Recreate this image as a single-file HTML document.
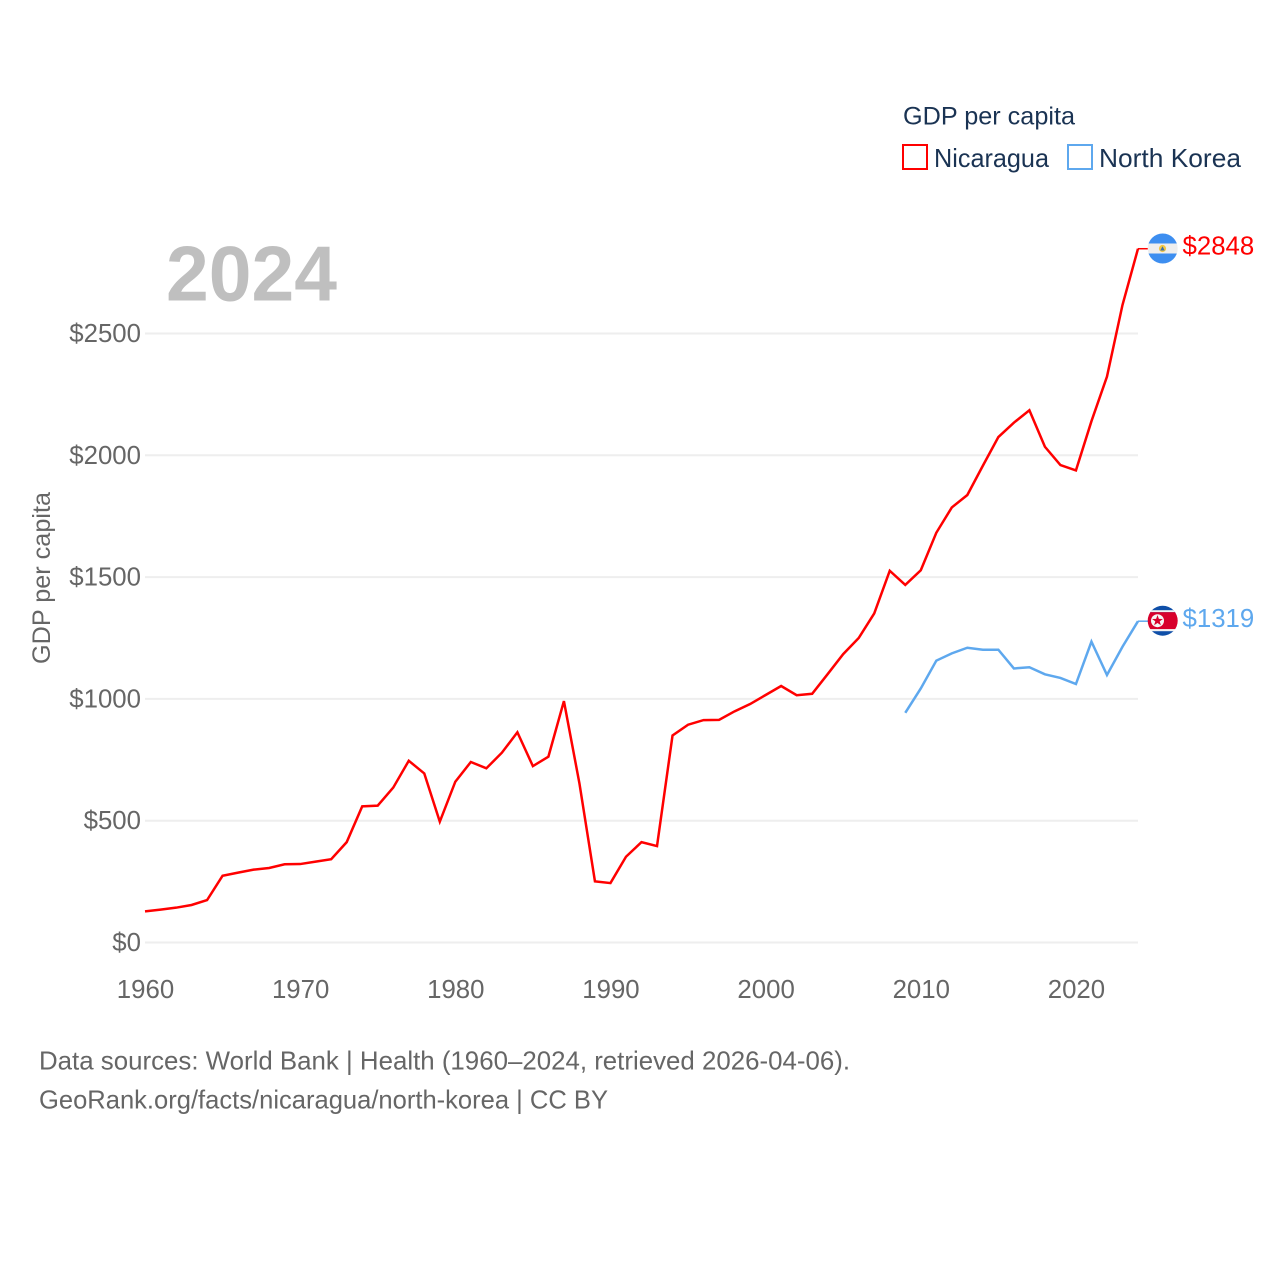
<!DOCTYPE html>
<html lang="en">
<head>
<meta charset="utf-8">
<title>GDP per capita: Nicaragua and North Korea</title>
<style>
  html, body { margin: 0; padding: 0; background: #ffffff; }
  svg { display: block; font-family: "Liberation Sans", sans-serif; }
</style>
</head>
<body>
<svg id="chart" xmlns="http://www.w3.org/2000/svg" width="1280" height="1280" viewBox="0 0 1280 1280">
  <defs>
    <clipPath id="clip-nic"><circle cx="1162.7" cy="248.5" r="15"/></clipPath>
    <clipPath id="clip-nk"><circle cx="1162.7" cy="620.7" r="15"/></clipPath>
  </defs>
  <rect x="0" y="0" width="1280" height="1280" fill="#ffffff"/>
  <g id="grid"></g>
  <g id="y-ticks"></g>
  <g id="x-ticks"></g>

  <text x="166" y="300.5" font-size="78" font-weight="700" fill="#bfbfbf" textLength="171" lengthAdjust="spacingAndGlyphs">2024</text>

  <text transform="translate(50,664) rotate(-90)" font-size="25" fill="#666666" textLength="172" lengthAdjust="spacingAndGlyphs">GDP per capita</text>

  <g id="series"></g>

  <g clip-path="url(#clip-nic)">
    <rect x="1147" y="233" width="31" height="10.5" fill="#3d8ef0"/>
    <rect x="1147" y="243.5" width="31" height="10" fill="#eeeeee"/>
    <rect x="1147" y="253.5" width="31" height="10.5" fill="#3d8ef0"/>
    <circle cx="1162.5" cy="248.5" r="3.6" fill="#f2c744"/>
    <path d="M1160.3 250.5 L1162.5 246.3 L1164.7 250.5 Z" fill="#3d6fa8"/>
  </g>
  <g clip-path="url(#clip-nk)">
    <rect x="1147" y="605" width="31" height="8" fill="#0f4fa8"/>
    <rect x="1147" y="610.2" width="31" height="2" fill="#f2f2f2"/>
    <rect x="1147" y="612.2" width="31" height="17" fill="#d8002c"/>
    <rect x="1147" y="629.2" width="31" height="2" fill="#f2f2f2"/>
    <rect x="1147" y="631.2" width="31" height="6" fill="#0f4fa8"/>
    <circle cx="1157.5" cy="620.7" r="6.5" fill="#f5f5f5"/>
    <path d="M1157.5 615.1 L1158.9 618.9 L1162.9 619 L1159.7 621.4 L1160.9 625.3 L1157.5 623 L1154.1 625.3 L1155.3 621.4 L1152.1 619 L1156.1 618.9 Z" fill="#d8002c"/>
  </g>

  <g>
    <text x="903" y="124.5" font-size="25" fill="#1a3353" textLength="172" lengthAdjust="spacingAndGlyphs">GDP per capita</text>
    <g>
      <rect x="903" y="145" width="24" height="24" fill="none" stroke="#ff0000" stroke-width="2"/>
      <text x="934" y="167" font-size="26" fill="#1a3353" textLength="115" lengthAdjust="spacingAndGlyphs">Nicaragua</text>
    </g>
    <g>
      <rect x="1068" y="145" width="24" height="24" fill="none" stroke="#5ea8ee" stroke-width="2"/>
      <text x="1099" y="167" font-size="26" fill="#1a3353" textLength="142" lengthAdjust="spacingAndGlyphs">North Korea</text>
    </g>
  </g>

  <text x="39" y="1069.5" font-size="26" fill="#666666" textLength="811" lengthAdjust="spacingAndGlyphs">Data sources: World Bank | Health (1960–2024, retrieved 2026-04-06).</text>
  <text x="39" y="1108.5" font-size="26" fill="#666666" textLength="569" lengthAdjust="spacingAndGlyphs">GeoRank.org/facts/nicaragua/north-korea | CC BY</text>
</svg>

<script>
var yTickValues = [0, 500, 1000, 1500, 2000, 2500];
var yTickLabels = ["$0", "$500", "$1000", "$1500", "$2000", "$2500"];
var xTickYears = [1960, 1970, 1980, 1990, 2000, 2010, 2020];
var xTickLabels = ["1960", "1970", "1980", "1990", "2000", "2010", "2020"];

var nicaraguaStartYear = 1960;
var nicaraguaValues = [128, 135, 143, 154, 174, 274, 287, 299, 306, 321,
  322, 332, 342, 412, 559, 562, 636, 746, 694, 496,
  660, 741, 715, 779, 863, 724, 763, 991, 653, 251,
  244, 352, 412, 396, 850, 894, 913, 914, 949, 979,
  1016, 1053, 1015, 1021, 1102, 1184, 1250, 1351, 1526, 1468,
  1528, 1682, 1786, 1837, 1957, 2075, 2134, 2185, 2035, 1960,
  1938, 2140, 2323, 2617, 2848];

var northKoreaStartYear = 2009;
var northKoreaValues = [943, 1043, 1157, 1187, 1210, 1202, 1202, 1125, 1130, 1101,
  1086, 1061, 1235, 1098, 1214, 1319];

var SVG_NS = "http://www.w3.org/2000/svg";
var X0 = 145, X1 = 1138, Y0 = 942.5, Y_SCALE = 0.2436;
var STUB_END = 1148;

function xScale(year) {
  return X0 + (year - 1960) * (X1 - X0) / 64;
}
function yScale(value) {
  return Y0 - value * Y_SCALE;
}
function make(tag, attrs, text) {
  var el = document.createElementNS(SVG_NS, tag);
  for (var k in attrs) { el.setAttribute(k, attrs[k]); }
  if (text !== undefined) { el.textContent = text; }
  return el;
}

var gridGroup = document.getElementById("grid");
var yGroup = document.getElementById("y-ticks");
var xGroup = document.getElementById("x-ticks");
var seriesGroup = document.getElementById("series");
var chartSvg = document.getElementById("chart");

yTickValues.forEach(function (v, i) {
  var line = make("line", { x1: X0, x2: X1, y1: yScale(v), y2: yScale(v), stroke: "#eeeeee", "stroke-width": 2 });
  
  
  gridGroup.appendChild(line);
  var label = make("text", { x: 141, y: yScale(v) + 8.5, "text-anchor": "end", "font-size": 25.8, fill: "#666666" }, yTickLabels[i]);
  
  
  yGroup.appendChild(label);
});

xTickYears.forEach(function (yr, i) {
  var label = make("text", { x: xScale(yr) + 0.5, y: 998, "text-anchor": "middle", "font-size": 25.8, fill: "#666666" }, xTickLabels[i]);
  
  
  xGroup.appendChild(label);
});

function drawSeries(values, startYear, color, seriesName) {
  var pts = values.map(function (v, i) {
    return xScale(startYear + i).toFixed(2) + "," + yScale(v).toFixed(2);
  });
  var path = make("polyline", { points: pts.join(" "), fill: "none", stroke: color, "stroke-width": 2.5, "stroke-linejoin": "miter" });
  
  
  seriesGroup.appendChild(path);

  var last = values[values.length - 1];
  var stub = make("line", { x1: X1, x2: STUB_END, y1: yScale(last), y2: yScale(last), stroke: color, "stroke-width": 1.5 });
  
  
  seriesGroup.appendChild(stub);

  var valueLabel = make("text", { x: 1182.5, y: yScale(last) + 6, "font-size": 25.8, fill: color }, "$" + last);
  
  
  chartSvg.appendChild(valueLabel);
}

drawSeries(nicaraguaValues, nicaraguaStartYear, "#ff0000", "nicaragua");
drawSeries(northKoreaValues, northKoreaStartYear, "#5ea8ee", "north-korea");
</script>
</body>
</html>
